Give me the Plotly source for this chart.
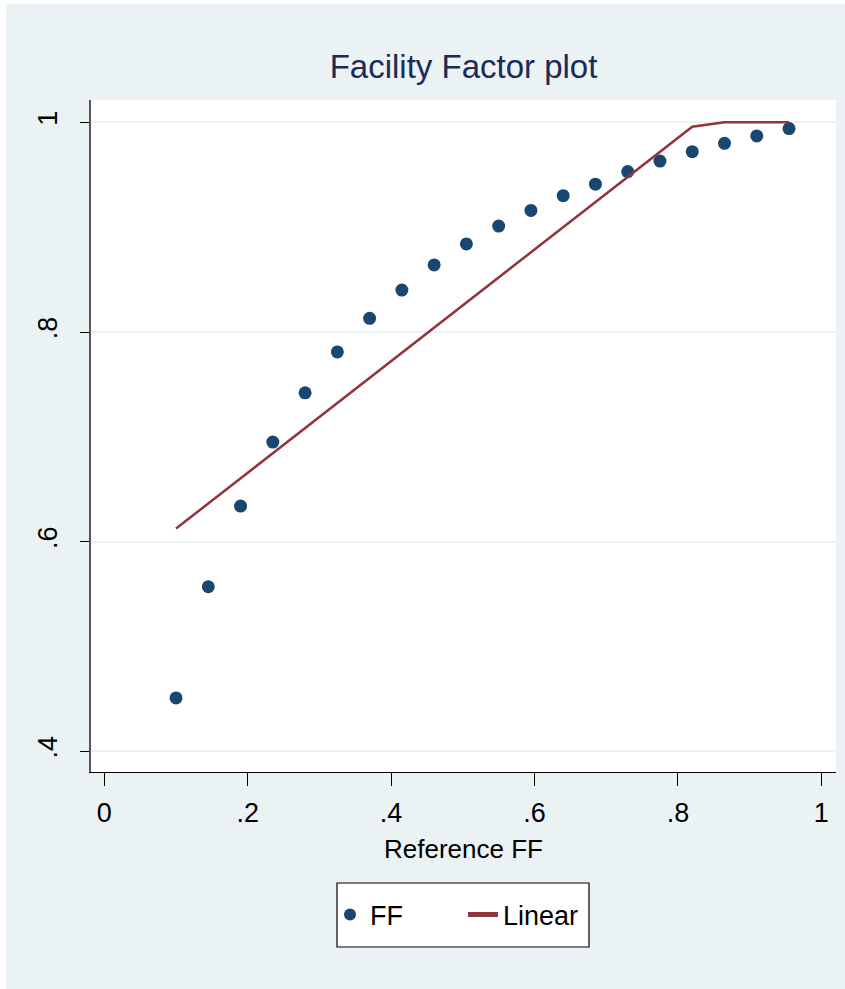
import plotly.graph_objects as go

# Data
ref_ff = [0.100, 0.145, 0.190, 0.235, 0.280, 0.325, 0.370, 0.415, 0.460, 0.505,
          0.550, 0.595, 0.640, 0.685, 0.730, 0.775, 0.820, 0.865, 0.910, 0.955]
ff_values = [0.451, 0.557, 0.634, 0.695, 0.742, 0.781, 0.813, 0.840, 0.864, 0.884,
             0.901, 0.916, 0.930, 0.941, 0.953, 0.963, 0.972, 0.980, 0.987, 0.994]
linear_values = [0.6125, 0.6365, 0.6604, 0.6844, 0.7083, 0.7323, 0.7562, 0.7802, 0.8042, 0.8281,
                 0.8521, 0.8760, 0.9000, 0.9239, 0.9479, 0.9719, 0.9958, 1.0, 1.0, 1.0]

x_tick_vals = [0, 0.2, 0.4, 0.6, 0.8, 1]
x_tick_text = ["0", ".2", ".4", ".6", ".8", "1"]
y_tick_vals = [0.4, 0.6, 0.8, 1.0]
y_tick_text = [".4", ".6", ".8", "1"]

BG = "#EAF2F3"
NAVY = "#1A476F"
MAROON = "#90353B"
FONT = "Liberation Sans, Arial, sans-serif"

# page offset of the figure (white border like the reference)
OFF_L, OFF_T = 6, 4
W, H = 845 - OFF_L, 989 - OFF_T
L, R, T, B = 85, 9, 96, 217
PW, PH = W - L - R, H - T - B


def px_x(fx):
    """figure-pixel x -> paper x"""
    return (fx - L) / PW


def px_y(fy):
    """figure-pixel y (from top) -> paper y"""
    return (H - B - fy) / PH


fig = go.Figure()
fig.add_trace(go.Scatter(
    x=ref_ff, y=ff_values, mode="markers", name="FF",
    marker=dict(color=NAVY, size=13, symbol="circle", line=dict(width=0)),
))
fig.add_trace(go.Scatter(
    x=ref_ff, y=linear_values, mode="lines", name="Linear",
    line=dict(color=MAROON, width=2.5),
))

# legend frame (white box with black border, as in the reference)
fig.add_shape(type="rect", xref="paper", yref="paper",
              x0=px_x(331), x1=px_x(583), y0=px_y(879), y1=px_y(943),
              fillcolor="white", line=dict(color="black", width=1.2), layer="below")

fig.update_layout(
    width=W, height=H,
    margin=dict(l=L, r=R, t=T, b=B, pad=0),
    paper_bgcolor=BG,
    plot_bgcolor="white",
    font=dict(family=FONT, color="black", size=27),
    title=dict(text="Facility Factor plot", x=(L + PW / 2) / W, xanchor="center",
               y=1 - 62 / H, yanchor="middle",
               font=dict(family=FONT, size=33, color="#1C2B55")),
    showlegend=True,
    legend=dict(orientation="h", x=px_x(324), xanchor="left", y=px_y(911), yanchor="middle",
                bgcolor="rgba(0,0,0,0)", borderwidth=0,
                font=dict(family=FONT, size=27, color="black"),
                entrywidth=88, itemsizing="constant"),
    xaxis=dict(range=[-0.0186, 1.0205], tickvals=x_tick_vals, ticktext=x_tick_text,
               showgrid=False, zeroline=False, showline=True, linecolor="black", linewidth=1,
               ticks="outside", ticklen=13, tickcolor="black", tickwidth=1,
               ticklabelstandoff=4,
               title=dict(text="Reference FF", font=dict(family=FONT, size=26), standoff=12)),
    yaxis=dict(range=[0.3803, 1.0213], tickvals=y_tick_vals, ticktext=y_tick_text,
               showgrid=True, gridcolor=BG, gridwidth=2, zeroline=False,
               showline=True, linecolor="#555555", linewidth=1.5,
               ticks="outside", ticklen=9, tickcolor="black", tickwidth=1,
               tickangle=-90, ticklabelstandoff=12),
)

fig.write_html(
    "out.html",
    post_script="document.body.style.margin='%dpx 0 0 %dpx';document.body.style.overflow='hidden';" % (OFF_T, OFF_L),
)
